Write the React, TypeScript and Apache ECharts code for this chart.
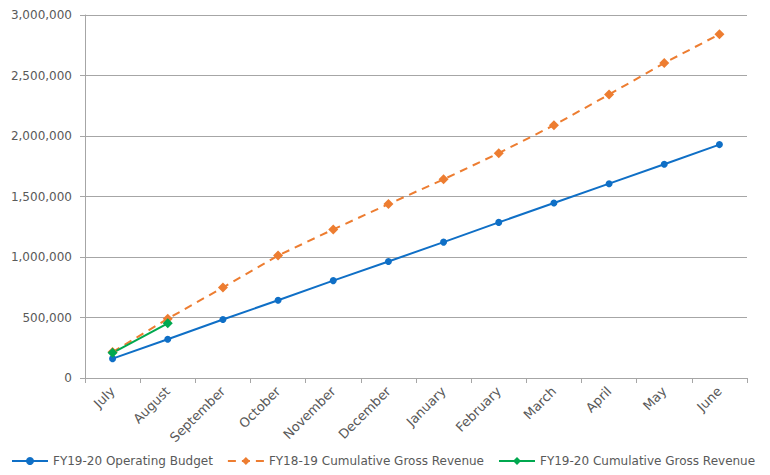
import React, { useEffect, useRef } from "react";
import * as echarts from "echarts";

const months = ["July", "August", "September", "October", "November", "December", "January", "February", "March", "April", "May", "June"];
const operatingBudget = [160000, 320000, 483000, 643000, 805000, 963000, 1123000, 1286000, 1446000, 1606000, 1766000, 1929000];
const revenue1819 = [215000, 490000, 748000, 1012000, 1228000, 1437000, 1642000, 1858000, 2089000, 2343000, 2603000, 2841000];
const revenue1920 = [208000, 452000];
const yTicks = { min: 0, max: 3000000, interval: 500000 };

const FONT = "DejaVu Sans";
const TEXT = "#595959";
const GRID = "#a6a6a6";

export default function App() {
  const ref = useRef<HTMLDivElement>(null);
  useEffect(() => {
    if (!ref.current) return;
    const chart = echarts.init(ref.current, null, { renderer: "svg" });
    chart.setOption({
      animation: false,
      backgroundColor: "#ffffff",
      grid: { left: 85, right: 23, top: 15, bottom: 97, containLabel: false },
      legend: {
        bottom: 3,
        left: 6,
        itemWidth: 36,
        itemHeight: 10,
        itemGap: 14,
        textStyle: { color: TEXT, fontFamily: FONT, fontSize: 12 },
        data: ["FY19-20 Operating Budget", "FY18-19 Cumulative Gross Revenue", "FY19-20 Cumulative Gross Revenue"],
      },
      xAxis: {
        type: "category",
        data: months,
        boundaryGap: true,
        axisLine: { lineStyle: { color: GRID, width: 1 } },
        axisTick: { show: true, length: 5, alignWithLabel: false, lineStyle: { color: GRID } },
        axisLabel: { rotate: 45, color: TEXT, fontFamily: FONT, fontSize: 13, margin: 11, interval: 0 },
      },
      yAxis: {
        type: "value",
        min: yTicks.min,
        max: yTicks.max,
        interval: yTicks.interval,
        axisLine: { show: true, lineStyle: { color: GRID, width: 1 } },
        axisTick: { show: true, length: 5, lineStyle: { color: GRID } },
        splitLine: { lineStyle: { color: GRID, width: 1 } },
        axisLabel: {
          color: TEXT,
          fontFamily: FONT,
          fontSize: 12,
          margin: 13,
          formatter: (v: number) => v.toLocaleString("en-US"),
        },
      },
      series: [
        {
          name: "FY19-20 Operating Budget",
          type: "line",
          data: operatingBudget,
          symbol: "circle",
          symbolSize: 7,
          lineStyle: { color: "#0F6FC6", width: 2 },
          itemStyle: { color: "#0F6FC6" },
        },
        {
          name: "FY18-19 Cumulative Gross Revenue",
          type: "line",
          data: revenue1819,
          symbol: "diamond",
          symbolSize: 10,
          lineStyle: { color: "#ED7D31", width: 2, type: [8, 6] },
          itemStyle: { color: "#ED7D31" },
        },
        {
          name: "FY19-20 Cumulative Gross Revenue",
          type: "line",
          data: revenue1920,
          symbol: "diamond",
          symbolSize: 10,
          lineStyle: { color: "#00A84F", width: 2 },
          itemStyle: { color: "#00A84F" },
        },
      ],
    });
    return () => chart.dispose();
  }, []);
  return <div ref={ref} style={{ width: 770, height: 475, position: "absolute", left: 0, top: 0 }} />;
}
